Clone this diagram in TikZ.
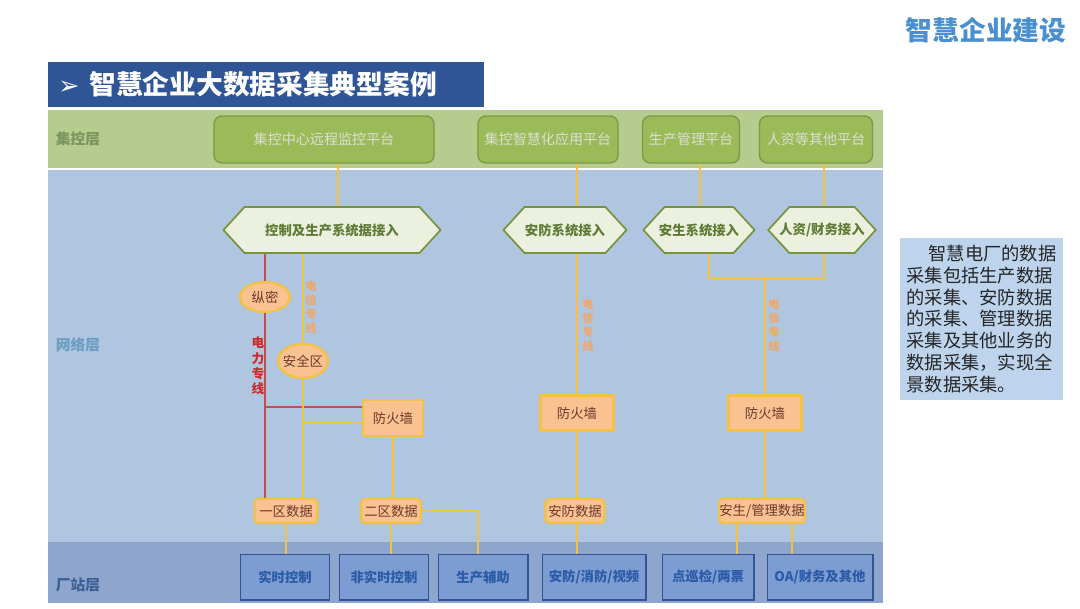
\documentclass[tikz,border=0pt]{standalone}
\usepackage{fontspec}
\setmainfont{Noto Sans CJK SC}
\newfontfamily\symfont{DejaVu Sans}
\usetikzlibrary{shapes.geometric,shapes.symbols}

\definecolor{titleblue}{HTML}{2F5597}
\definecolor{headblue}{HTML}{4A8FCF}
\definecolor{bandgreen}{HTML}{B5CC8E}
\definecolor{bandnet}{HTML}{B0C5E0}
\definecolor{bandstation}{HTML}{8EA6CE}
\definecolor{platgreen}{HTML}{9BBB59}
\definecolor{platedge}{HTML}{7A9A45}
\definecolor{plattext}{HTML}{DCDED2}
\definecolor{hexfill}{HTML}{EBF1DE}
\definecolor{hexedge}{HTML}{77933C}
\definecolor{hextext}{HTML}{5F7B35}
\definecolor{lineyellow}{HTML}{F3C242}
\definecolor{linered}{HTML}{C0504D}
\definecolor{redtext}{HTML}{CC2A2A}
\definecolor{orangetext}{HTML}{F0A868}
\definecolor{zonefill}{HTML}{FAC191}
\definecolor{walltext}{HTML}{6B3B2E}
\definecolor{boxblue}{HTML}{7D9CD1}
\definecolor{boxedge}{HTML}{2F5597}
\definecolor{boxtext}{HTML}{2A5BA8}
\definecolor{notefill}{HTML}{BDD4EC}
\definecolor{ctrltext}{HTML}{7A9560}
\definecolor{nettext}{HTML}{6A9EC2}
\definecolor{stationtext}{HTML}{3C6096}

\tikzstyle{layer-label}=[inner sep=0pt,font=\fontsize{10.5pt}{12pt}\selectfont\bfseries]
\tikzstyle{platform-node}=[rectangle,rounded corners=0.2cm,fill=platgreen,draw=platedge,line width=1pt,minimum height=1.175cm,inner sep=0pt,text=plattext,font=\fontsize{10pt}{12pt}\selectfont]
\tikzstyle{access-node}=[signal,signal to=west and east,signal pointer angle=95,fill=hexfill,draw=hexedge,line width=1.2pt,minimum height=1.15cm,inner sep=0pt,text=hextext,font=\fontsize{9.5pt}{11pt}\selectfont\bfseries]
\tikzstyle{zone-node}=[ellipse,fill=zonefill,draw=lineyellow,line width=1.6pt,inner sep=0pt,inner xsep=-0.06cm,text=walltext,font=\fontsize{9.5pt}{11pt}\selectfont]
\tikzstyle{wall-node}=[rectangle,fill=zonefill,draw=lineyellow,line width=1.6pt,minimum height=0.875cm,inner sep=0pt,text=walltext,font=\fontsize{9.5pt}{11pt}\selectfont]
\tikzstyle{data-node}=[rectangle,rounded corners=0.1cm,fill=zonefill,draw=lineyellow,line width=1.6pt,minimum height=0.6cm,inner sep=0pt,text=walltext,font=\fontsize{9.5pt}{11pt}\selectfont]
\tikzstyle{station-node}=[rectangle,fill=boxblue,draw=boxedge,line width=1.4pt,minimum height=1.125cm,inner sep=0pt,text=boxtext,font=\fontsize{9.5pt}{11pt}\selectfont\bfseries]
\tikzstyle{line-label}=[align=center,inner sep=0pt,font=\fontsize{8pt}{10pt}\selectfont\bfseries]
\tikzstyle{yline}=[draw=lineyellow,line width=1.3pt]
\tikzstyle{rline}=[draw=linered,line width=1pt]

\begin{document}
\begin{tikzpicture}[x=0.025cm,y=-0.025cm]
    \useasboundingbox (0,0) rectangle (1080,608);
    % layer bands
    \fill[bandgreen] (48,110) rectangle (883,168);
    \fill[bandnet] (48,170) rectangle (883,542);
    \fill[bandstation] (48,542) rectangle (883,603);

    \node[text=headblue,font=\fontsize{19pt}{22pt}\selectfont\bfseries] at (986,30) (head) {智慧企业建设};
    \node[fill=titleblue,anchor=west,minimum height=1.125cm,text width=10.4cm,inner xsep=0.25cm,inner ysep=0pt,align=left,text=white,font=\fontsize{19pt}{22pt}\selectfont\bfseries] at (48,84.5) (title) {{\symfont\fontsize{18pt}{20pt}\selectfont ➢}\hspace{0.25cm}智慧企业大数据采集典型案例};

    \node[layer-label,text=ctrltext] at (78,139) (l1) {集控层};
    \node[layer-label,text=nettext] at (78,345) (l2) {网络层};
    \node[layer-label,text=stationtext] at (78,585) (l3) {厂站层};

    % platforms
    \node[platform-node,minimum width=5.5cm] at (324,139.5) (p1) {集控中心远程监控平台};
    \node[platform-node,minimum width=3.5cm] at (548,139.5) (p2) {集控智慧化应用平台};
    \node[platform-node,minimum width=2.425cm] at (691,139.5) (p3) {生产管理平台};
    \node[platform-node,minimum width=2.825cm] at (816,139.5) (p4) {人资等其他平台};

    % access
    \node[access-node,minimum width=5.425cm] at (332,230) (hA) {控制及生产系统据接入};
    \node[access-node,minimum width=3.075cm] at (565,230) (hB) {安防系统接入};
    \node[access-node,inner xsep=-0.14cm] at (699,230) (hC) {安生系统接入};
    \node[access-node,inner xsep=-0.25cm] at (822,230) (hD) {人资/财务接入};

    \node[zone-node,minimum width=1.25cm,minimum height=0.75cm] at (265,297) (e1) {纵密};
    \node[zone-node,minimum width=1.25cm,minimum height=0.85cm] at (303,361) (e2) {安全区};

    \node[wall-node,minimum width=1.5cm,minimum height=0.9cm] at (393,418) (f1) {防火墙};
    \node[wall-node,minimum width=1.825cm] at (577,413) (f2) {防火墙};
    \node[wall-node,minimum width=1.825cm] at (765,413) (f3) {防火墙};

    \node[data-node,minimum width=1.575cm] at (286,511) (d1) {一区数据};
    \node[data-node,minimum width=1.5cm] at (391,511) (d2) {二区数据};
    \node[data-node,minimum width=1.475cm] at (575,511) (d3) {安防数据};
    \node[data-node,minimum width=2.15cm] at (762,511) (d4) {安生/管理数据};

    \node[station-node,minimum width=2.225cm] at (285,577) (b1) {实时控制};
    \node[station-node,minimum width=2.225cm] at (384,577) (b2) {非实时控制};
    \node[station-node,minimum width=2.225cm] at (483,577) (b3) {生产辅助};
    \node[station-node,minimum width=2.575cm] at (594,577) (b4) {安防/消防/视频};
    \node[station-node,minimum width=2.275cm] at (708,577) (b5) {点巡检/两票};
    \node[station-node,minimum width=2.625cm] at (820,577) (b6) {OA/财务及其他};

    \node[line-label,text=orangetext] at (311,307) (t1) {电\\信\\专\\线};
    \node[line-label,text=orangetext] at (588,325) (t2) {电\\信\\专\\线};
    \node[line-label,text=orangetext] at (774,325) (t3) {电\\信\\专\\线};
    \node[line-label,text=redtext,font=\fontsize{9pt}{11pt}\selectfont\bfseries] at (258,366) (t4) {电\\力\\专\\线};

    \node[fill=notefill,minimum width=4.075cm,minimum height=4.05cm,inner sep=0pt,align=left,text=black!85,font=\fontsize{13pt}{15.6pt}\selectfont] at (981.5,319) (note) {\hspace*{1.2em}智慧电厂的数据\\采集包括生产数据\\的采集、安防数据\\的采集、管理数据\\采集及其他业务的\\数据采集，实现全\\景数据采集。};

    % connectors
    \foreach \a/\b/\x in {p1/hA/338, p2/hB/577, p3/hC/700, p4/hD/824}
        \draw[yline] (\x,0 |- \a.south) -- (\x,0 |- \b.north);
    \draw[rline] (e1.north |- hA.south) -- (e1.north);
    \draw[rline] (e1.south) -- (e1.south |- d1.north);
    \draw[rline] (e1.south |- 0,407) -- (f1.west |- 0,407);
    \draw[yline] (e2.north |- hA.south) -- (e2.north);
    \draw[yline] (e2.south) -- (e2.south |- d1.north);
    \draw[yline] (e2.south |- 0,423) -- (f1.west |- 0,423);
    \draw[yline] (f1.south) -- (f1.south |- d2.north);
    \draw[yline] (d1.south) -- (d1.south |- b1.north);
    \draw[yline] (d2.south) -- (d2.south |- b2.north);
    \draw[yline] (d2.east) -| (478,0 |- b3.north);
    \draw[yline] (577,0 |- hB.south) -- (f2.north);
    \draw[yline] (f2.south) -- (f2.south |- d3.north);
    \draw[yline] (f2.south |- d3.south) -- (f2.south |- b4.north);
    \coordinate (jn) at (765,278);
    \draw[yline] (709,0 |- hC.south) |- (jn) -| (824,0 |- hD.south);
    \draw[yline] (jn) -- (f3.north);
    \draw[yline] (f3.south) -- (f3.south |- d4.north);
    \draw[yline] (737,0 |- d4.south) -- (737,0 |- b5.north);
    \draw[yline] (792,0 |- d4.south) -- (792,0 |- b6.north);
\end{tikzpicture}
\end{document}
